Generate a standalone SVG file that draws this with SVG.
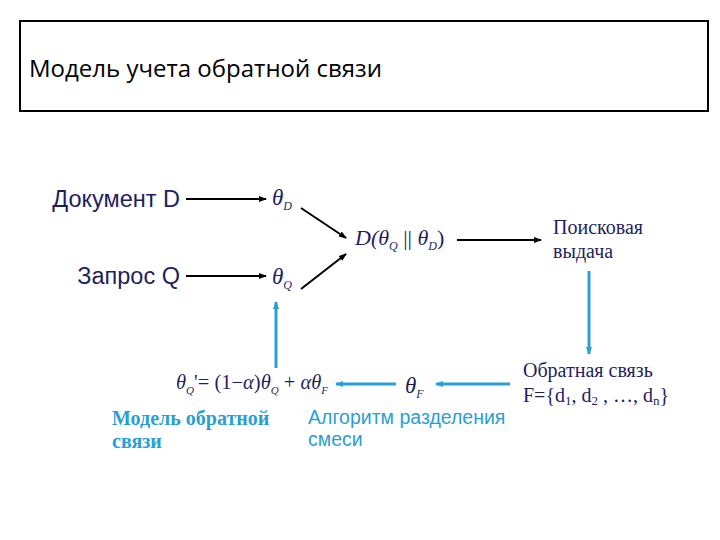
<svg xmlns="http://www.w3.org/2000/svg" width="720" height="540" viewBox="0 0 720 540">
<style>
.nav{fill:#1f1f5f}
.sans{font-family:"Liberation Sans",Arial,sans-serif}
.serif{font-family:"Liberation Serif","Times New Roman",serif}
.math{font-family:"Liberation Serif","Times New Roman",serif;font-style:italic;fill:#1f1f5f}
.blk{stroke:#000;stroke-width:2;fill:none}
.blu{stroke:#2a9fd3;stroke-width:3;fill:none}
.bt{fill:#2a9fd3}
</style>
<defs>
<marker id="ak" markerWidth="8" markerHeight="8" refX="7" refY="4" orient="auto" markerUnits="userSpaceOnUse"><path d="M0,1 L8,4 L0,7 z" fill="#000"/></marker>
<marker id="ab" markerWidth="8" markerHeight="8" refX="7" refY="4" orient="auto" markerUnits="userSpaceOnUse"><path d="M0,1 L8,4 L0,7 z" fill="#2a9fd3"/></marker>
</defs>
<rect x="0" y="0" width="720" height="540" fill="#fff"/>
<g id="title">
<rect x="20" y="21" width="688" height="90" fill="none" stroke="#000" stroke-width="2"/>
<text x="29" y="77" font-size="24" font-family="'Open Sans','Noto Sans',sans-serif" fill="#000">Модель учета обратной связи</text>
</g>
<g id="doc"><text x="180" y="207" font-size="23.5" text-anchor="end" class="sans nav">Документ D</text></g>
<g id="query"><text x="180" y="284" font-size="23.5" text-anchor="end" class="sans nav">Запрос Q</text></g>
<g id="thetaD"><text x="272" y="205" font-size="23" class="math">θ<tspan font-size="12" dy="5">D</tspan></text></g>
<g id="thetaQ"><text x="272" y="284" font-size="23" class="math">θ<tspan font-size="12" dy="5">Q</tspan></text></g>
<g id="dist"><text x="355" y="245" font-size="22" class="math">D(θ<tspan font-size="12" dy="5">Q</tspan><tspan dy="-5" font-style="normal"> || </tspan>θ<tspan font-size="12" dy="5">D</tspan><tspan dy="-5" font-style="normal">)</tspan></text></g>
<g id="results"><text x="553" y="234" font-size="20" class="serif nav">Поисковая</text><text x="553" y="258" font-size="20" class="serif nav">выдача</text></g>
<g id="feedback"><text x="523" y="377" font-size="20" class="serif nav">Обратная связь</text><text x="523" y="402" font-size="20" class="serif nav">F={d<tspan font-size="13" dy="3">1</tspan><tspan dy="-3">, d</tspan><tspan font-size="13" dy="3">2</tspan><tspan dy="-3"> , …, d</tspan><tspan font-size="13" dy="3">n</tspan><tspan dy="-3">}</tspan></text></g>
<g id="thetaF"><text x="405" y="393" font-size="23" class="math">θ<tspan font-size="12" dy="5">F</tspan></text></g>
<g id="formula"><text x="176" y="389" font-size="20.5" class="math">θ<tspan font-size="11" dy="5">Q</tspan><tspan dy="-5" font-style="normal">'= (1−</tspan>α<tspan font-style="normal">)</tspan>θ<tspan font-size="11" dy="5">Q</tspan><tspan dy="-5" font-style="normal"> + </tspan>αθ<tspan font-size="11" dy="5">F</tspan></text></g>
<g id="modelLabel"><text x="112" y="425" font-size="20" font-weight="bold" class="serif bt">Модель обратной</text><text x="112" y="448" font-size="20" font-weight="bold" class="serif bt">связи</text></g>
<g id="algLabel"><text x="308" y="424" font-size="19.5" class="sans bt">Алгоритм разделения</text><text x="308" y="446" font-size="19.5" class="sans bt">смеси</text></g>
<g id="connectors">
<line x1="186" y1="199" x2="266" y2="199" class="blk" marker-end="url(#ak)"/>
<line x1="186" y1="276" x2="266" y2="276" class="blk" marker-end="url(#ak)"/>
<line x1="301" y1="208" x2="346" y2="238" class="blk" marker-end="url(#ak)"/>
<line x1="301" y1="289" x2="346" y2="254" class="blk" marker-end="url(#ak)"/>
<line x1="457" y1="240" x2="541" y2="240" class="blk" marker-end="url(#ak)"/>
<line x1="589" y1="271" x2="589" y2="354" class="blu" marker-end="url(#ab)"/>
<line x1="510" y1="384" x2="436" y2="384" class="blu" marker-end="url(#ab)"/>
<line x1="396" y1="384" x2="336" y2="384" class="blu" marker-end="url(#ab)"/>
<line x1="276" y1="368" x2="276" y2="302" class="blu" marker-end="url(#ab)"/>
</g>
</svg>
